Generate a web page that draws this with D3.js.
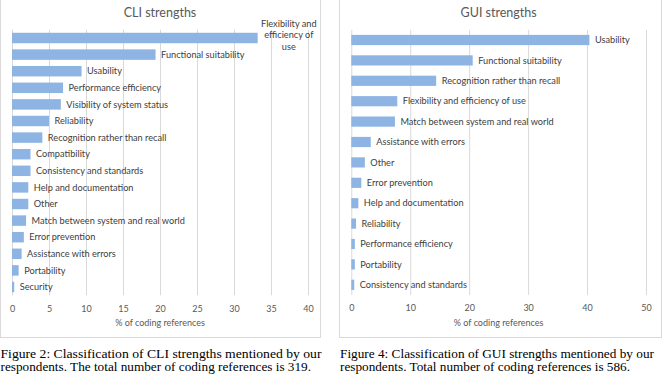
<!DOCTYPE html>
<html>
<head>
<meta charset="utf-8">
<script src="https://cdn.jsdelivr.net/npm/d3@7"></script>
<style>
  body { margin: 0; background: #fff; }
  svg { display: block; }
  .grid line { stroke: #d9d9d9; }
  .grid text { fill: #595959; font-family: Lato, "Open Sans", sans-serif; font-size: 9px; }
</style>
</head>
<body>
<script>
// CLI panel data (% of coding references)
const cliCategories = [
    'Flexibility and efficiency of use', 'Functional suitability', 'Usability',
    'Performance efficiency', 'Visibility of system status', 'Reliability',
    'Recognition rather than recall', 'Compatibility', 'Consistency and standards',
    'Help and documentation', 'Other', 'Match between system and real world',
    'Error prevention', 'Assistance with errors', 'Portability', 'Security'
];
const cliValues = [33.2, 19.4, 9.4, 6.9, 6.6, 5.0, 4.1, 2.5, 2.5, 2.2, 2.2, 1.9, 1.6, 1.3, 0.9, 0.3];
const cliTicks = [0, 5, 10, 15, 20, 25, 30, 35, 40];

// GUI panel data
const guiCategories = [
    'Usability', 'Functional suitability', 'Recognition rather than recall',
    'Flexibility and efficiency of use', 'Match between system and real world',
    'Assistance with errors', 'Other', 'Error prevention', 'Help and documentation',
    'Reliability', 'Performance efficiency', 'Portability', 'Consistency and standards'
];
const guiValues = [40.4, 20.6, 14.4, 7.8, 7.4, 3.3, 2.3, 1.7, 1.2, 0.8, 0.6, 0.6, 0.5];
const guiTicks = [0, 10, 20, 30, 40, 50];

const captions = [
    ['Figure 2: Classification of CLI strengths mentioned by our',
     'respondents. The total number of coding references is 319.'],
    ['Figure 4: Classification of GUI strengths mentioned by our',
     'respondents. Total number of coding references is 586.']
];

const WIDTH = 663, HEIGHT = 379;
const BAR_COLOR = '#8eb4e3';
const FONT = 'Lato, "Open Sans", sans-serif';

const svg = d3.select('body').append('svg')
    .attr('width', WIDTH)
    .attr('height', HEIGHT);

function drawPanel(p) {
    const g = svg.append('g');

    // chart frame
    g.append('rect')
        .attr('x', p.frame[0] + 0.5)
        .attr('y', p.frame[1] + 0.5)
        .attr('width', p.frame[2])
        .attr('height', p.frame[3])
        .attr('fill', '#fff')
        .attr('stroke', '#d9d9d9');

    const x = d3.scaleLinear()
        .domain([p.ticks[0], p.ticks[p.ticks.length - 1]])
        .range(p.xRange);

    const y = d3.scaleBand()
        .domain(p.categories)
        .range(p.yRange)
        .paddingInner(p.pad)
        .paddingOuter(p.pad / 2);

    // gridlines + tick labels
    const axis = d3.axisBottom(x)
        .tickValues(p.ticks)
        .tickFormat(d3.format('d'))
        .tickSize(-(p.yRange[1] - p.yRange[0]))
        .tickPadding(10);

    g.append('g')
        .attr('class', 'grid')
        .attr('transform', `translate(0,${p.yRange[1]})`)
        .call(axis)
        .call(a => a.select('.domain').remove());

    // bars
    g.append('g')
        .selectAll('rect')
        .data(p.values)
        .join('rect')
        .attr('x', x(0))
        .attr('y', (d, i) => y(p.categories[i]))
        .attr('width', d => x(d) - x(0))
        .attr('height', y.bandwidth())
        .attr('fill', BAR_COLOR);

    // data labels (category names)
    const frameRight = p.frame[0] + p.frame[2];
    p.values.forEach((v, i) => {
        const cy = y(p.categories[i]) + y.bandwidth() / 2;
        const lx = x(v) + 5.5;
        const t = g.append('text')
            .attr('x', lx)
            .attr('y', cy)
            .attr('dy', '0.35em')
            .attr('fill', '#404040')
            .style('font-family', FONT)
            .style('font-size', '9.2px')
            .text(p.categories[i]);

        // wrap long labels that run past the frame
        if (lx + t.node().getComputedTextLength() > frameRight - 2) {
            const maxW = frameRight - lx + 4;
            const words = p.categories[i].split(' ');
            const lines = [];
            let line = [];
            t.text('');
            words.forEach(w => {
                line.push(w);
                t.text(line.join(' '));
                if (t.node().getComputedTextLength() > maxW && line.length > 1) {
                    line.pop();
                    lines.push(line.join(' '));
                    line = [w];
                }
            });
            lines.push(line.join(' '));
            t.text('');
            const cx = (x(v) + frameRight) / 2;
            const lh = 11.5;
            lines.forEach((l, k) => {
                t.append('tspan')
                    .attr('x', cx)
                    .attr('y', cy - 3 + (k - (lines.length - 1) / 2) * lh)
                    .attr('dy', '0.35em')
                    .attr('text-anchor', 'middle')
                    .text(l);
            });
        }
    });

    // chart title
    g.append('text')
        .attr('x', (p.xRange[0] + p.xRange[1]) / 2)
        .attr('y', 13)
        .attr('dy', '0.35em')
        .attr('text-anchor', 'middle')
        .attr('fill', '#595959')
        .style('font-family', FONT)
        .style('font-size', '12.5px')
        .text(p.title);

    // axis title
    g.append('text')
        .attr('x', (p.xRange[0] + p.xRange[1]) / 2)
        .attr('y', 323)
        .attr('dy', '0.35em')
        .attr('text-anchor', 'middle')
        .attr('fill', '#595959')
        .style('font-family', FONT)
        .style('font-size', '9px')
        .text('% of coding references');

    // figure caption below the frame (glyphs stretched to the measured widths)
    p.caption.forEach((l, k) => {
        svg.append('text')
            .attr('x', p.capX)
            .attr('y', 358 + k * 13)
            .attr('textLength', p.capWidths[k])
            .attr('lengthAdjust', 'spacingAndGlyphs')
            .attr('fill', '#000')
            .style('font-family', '"Liberation Serif", "Times New Roman", serif')
            .style('font-size', '12px')
            .text(l);
    });
}

drawPanel({
    title: 'CLI strengths',
    categories: cliCategories,
    values: cliValues,
    ticks: cliTicks,
    frame: [0, -1, 320, 338],
    xRange: [12, 308],
    yRange: [29.7, 295.3],
    pad: 0.37,
    capX: 0.5,
    capWidths: [321, 310.5],
    caption: captions[0]
});

drawPanel({
    title: 'GUI strengths',
    categories: guiCategories,
    values: guiValues,
    ticks: guiTicks,
    frame: [339, -1, 322, 338],
    xRange: [351.3, 646],
    yRange: [29.8, 295],
    pad: 0.5,
    capX: 340,
    capWidths: [314, 290],
    caption: captions[1]
});
</script>
</body>
</html>
